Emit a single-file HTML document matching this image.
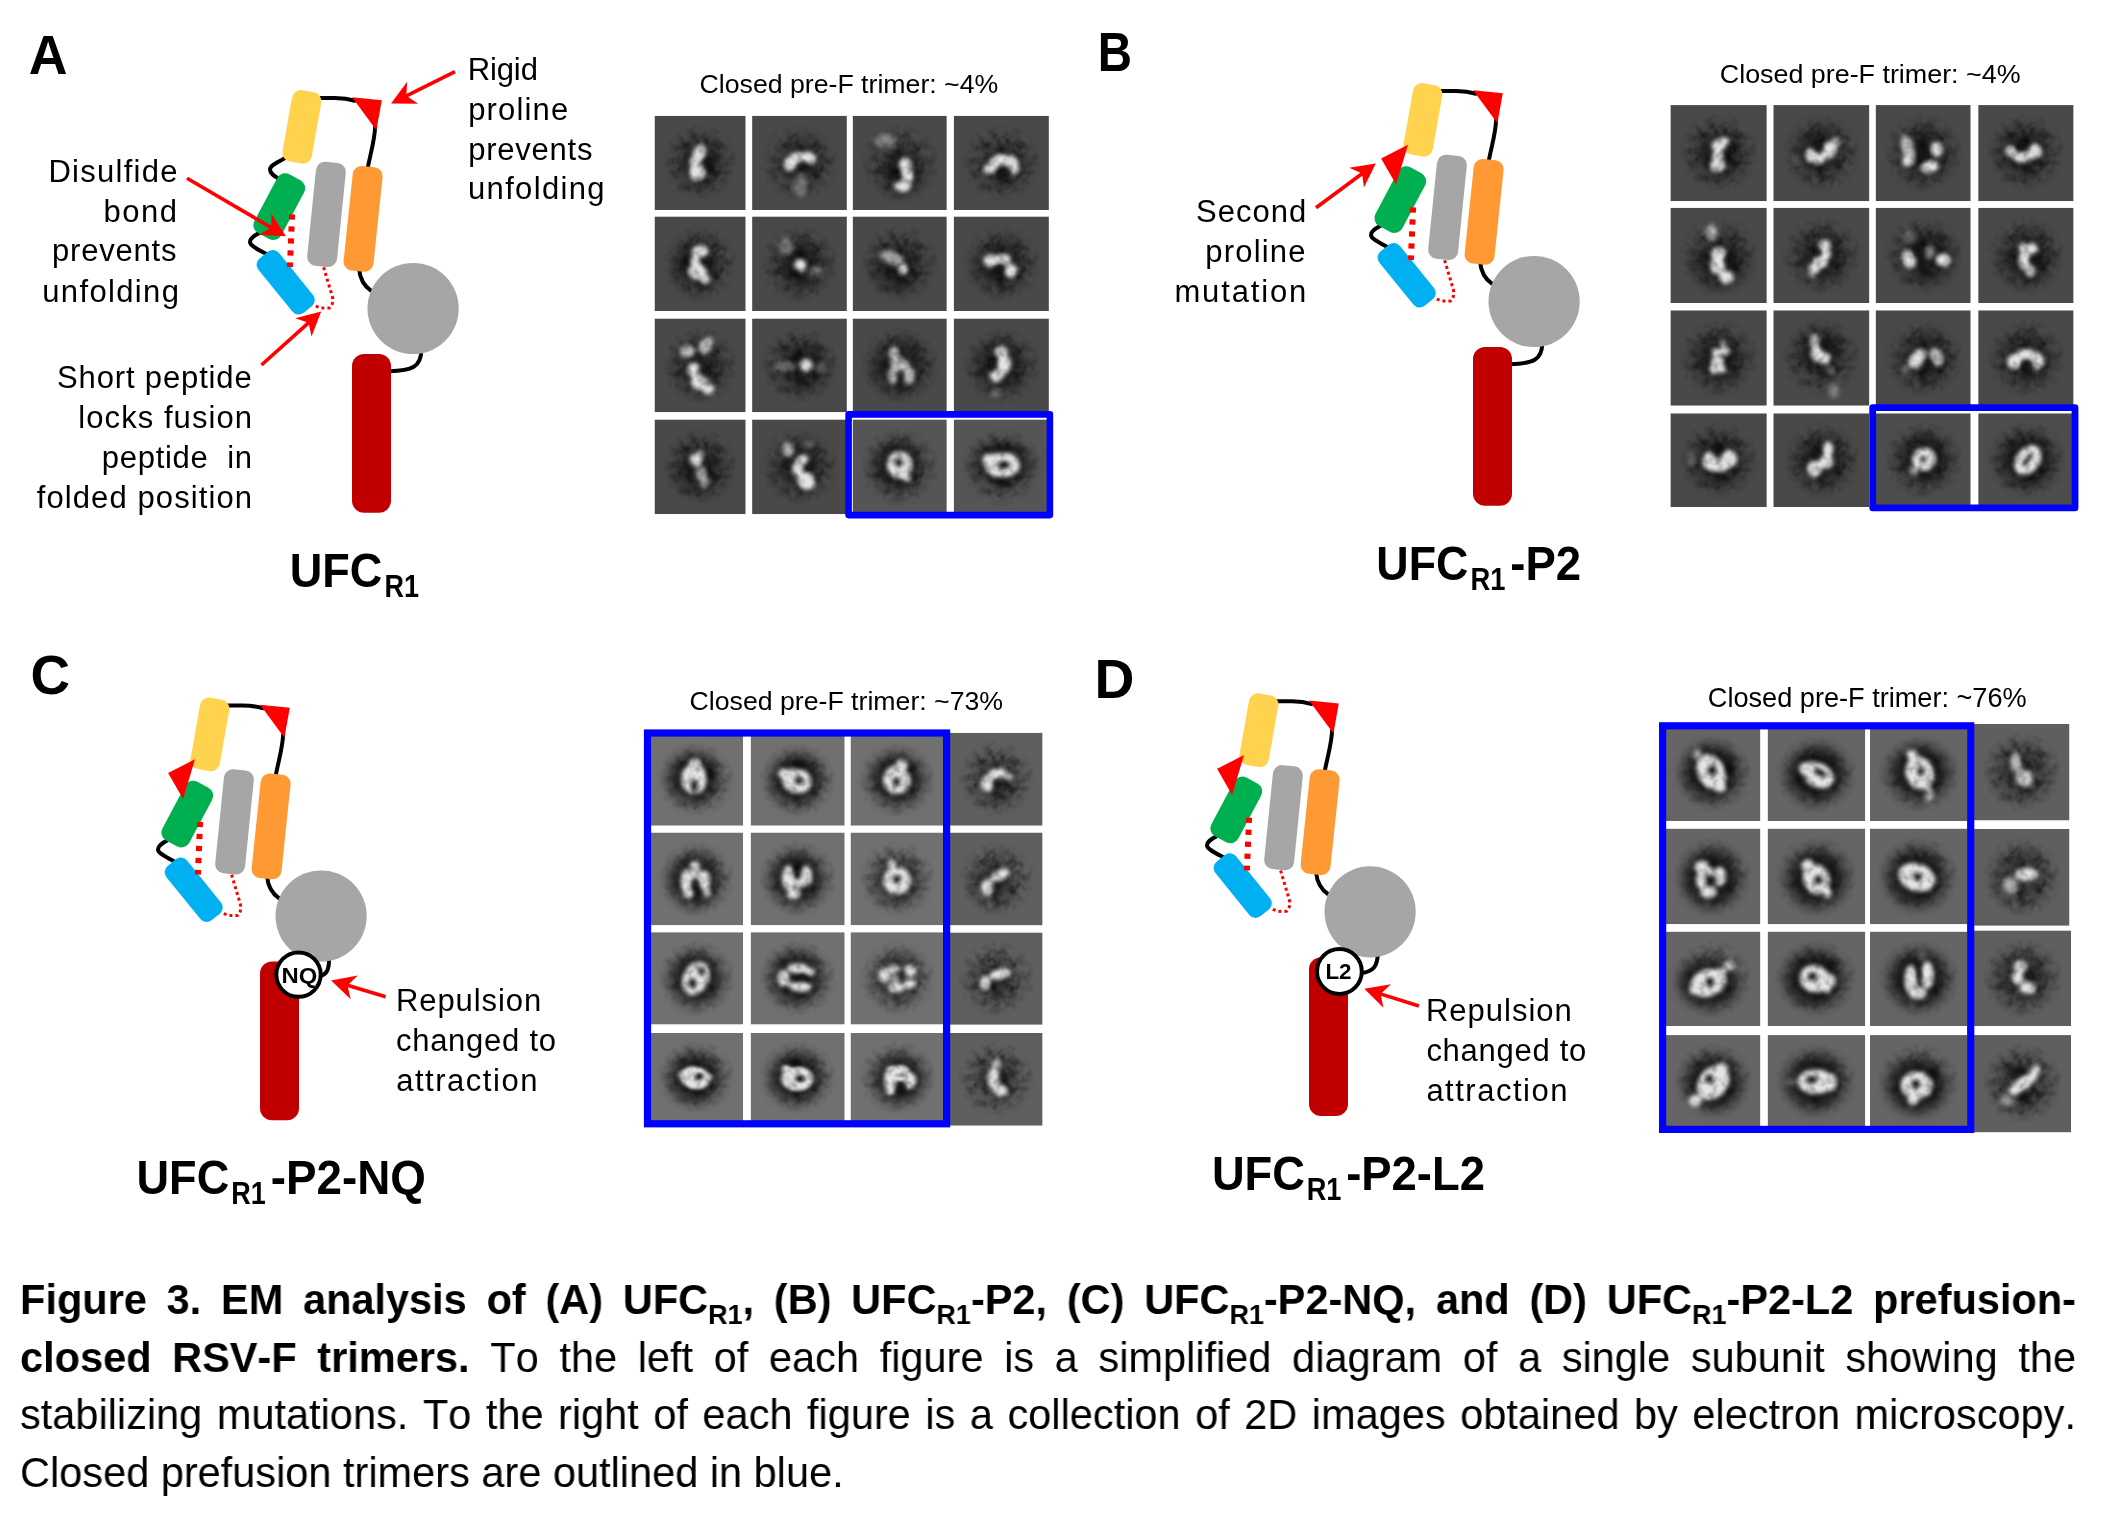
<!DOCTYPE html>
<html lang="en"><head><meta charset="utf-8"><title>Figure 3</title>
<style>
html,body{margin:0;padding:0;background:#fff}
body{width:2118px;height:1520px;overflow:hidden;position:relative;font-family:"Liberation Sans", Arial, Helvetica, sans-serif}
svg.main{position:absolute;left:0;top:0;will-change:transform}
svg text{font-family:"Liberation Sans",Arial,Helvetica,sans-serif;fill:#000;font-kerning:none}
.cap{position:absolute;left:19.6px;width:2139.2px;font-size:43.2px;line-height:57px;white-space:nowrap;color:#000;font-kerning:none;transform:scale(0.9611,1);transform-origin:0 0;will-change:transform}
.cap.j{text-align:justify;text-align-last:justify}
.cap sub{font-size:28px;vertical-align:baseline;position:relative;top:10px;line-height:0}
</style></head><body>
<svg class="main" width="2118" height="1520" viewBox="0 0 2118 1520">
<defs><filter id="b1" x="-50%" y="-50%" width="200%" height="200%"><feGaussianBlur stdDeviation="2.1"/></filter><filter id="b2" x="-50%" y="-50%" width="200%" height="200%"><feGaussianBlur stdDeviation="3"/></filter><filter id="b3" x="-50%" y="-50%" width="200%" height="200%"><feGaussianBlur stdDeviation="7"/></filter><filter id="n0" x="0" y="0" width="100%" height="100%"><feTurbulence type="fractalNoise" baseFrequency="0.11" numOctaves="2" seed="2"/><feColorMatrix type="matrix" values="0 0 0 0 0 0 0 0 0 0 0 0 0 0 0 2.2 0 0 0 -0.9"/></filter><filter id="n1" x="0" y="0" width="100%" height="100%"><feTurbulence type="fractalNoise" baseFrequency="0.11" numOctaves="2" seed="7"/><feColorMatrix type="matrix" values="0 0 0 0 0 0 0 0 0 0 0 0 0 0 0 2.2 0 0 0 -0.9"/></filter><filter id="n2" x="0" y="0" width="100%" height="100%"><feTurbulence type="fractalNoise" baseFrequency="0.11" numOctaves="2" seed="13"/><feColorMatrix type="matrix" values="0 0 0 0 0 0 0 0 0 0 0 0 0 0 0 2.2 0 0 0 -0.9"/></filter><radialGradient id="hm"><stop offset="0" stop-color="#fff"/><stop offset="0.55" stop-color="#fff"/><stop offset="1" stop-color="#fff" stop-opacity="0"/></radialGradient><mask id="mk" maskUnits="userSpaceOnUse" x="0" y="0" width="100" height="100"><circle cx="50" cy="50" r="42" fill="url(#hm)"/></mask></defs>
<g id="gridA"><svg x="654.5" y="115.7" width="91.2" height="94.4" viewBox="0 0 100 100" preserveAspectRatio="none"><rect width="100" height="100" fill="#494949"/><g filter="url(#b3)" fill="#000"><ellipse cx="50" cy="50" rx="21.1" ry="22.9" opacity="0.57"/></g><g mask="url(#mk)"><rect width="100" height="100" filter="url(#n0)" opacity="0.55"/></g><g filter="url(#b1)" fill="#e4e4e4"><ellipse cx="49" cy="40" rx="6.7" ry="10.1" transform="rotate(20 49 40)"/><ellipse cx="47" cy="60" rx="9.0" ry="9.0"/><ellipse cx="44" cy="50" rx="5.6" ry="7.8"/></g><g filter="url(#b1)" fill="#0a0a0a"><ellipse cx="60" cy="52" rx="5.0" ry="6.0" opacity="0.75"/></g><g mask="url(#mk)"><rect width="100" height="100" filter="url(#n1)" opacity="0.3"/></g></svg><svg x="752.1" y="115.7" width="94.8" height="94.4" viewBox="0 0 100 100" preserveAspectRatio="none"><rect width="100" height="100" fill="#494949"/><g filter="url(#b3)" fill="#000"><ellipse cx="52" cy="50" rx="21.1" ry="19.4" opacity="0.57"/></g><g mask="url(#mk)"><rect width="100" height="100" filter="url(#n1)" opacity="0.55"/></g><g filter="url(#b2)" fill="#ddd"><ellipse cx="51" cy="73" rx="6.0" ry="13.0" opacity="0.45"/></g><g filter="url(#b1)" fill="#e4e4e4"><ellipse cx="40" cy="51" rx="6.7" ry="7.8"/><ellipse cx="47" cy="45" rx="9.0" ry="6.7" transform="rotate(-20 47 45)"/><ellipse cx="60" cy="45" rx="7.8" ry="6.7" transform="rotate(20 60 45)"/></g><g filter="url(#b1)" fill="#0a0a0a"><ellipse cx="54" cy="53" rx="6.0" ry="4.0" opacity="0.75"/></g><g mask="url(#mk)"><rect width="100" height="100" filter="url(#n2)" opacity="0.3"/></g></svg><svg x="852.6" y="115.7" width="94.2" height="94.4" viewBox="0 0 100 100" preserveAspectRatio="none"><rect width="100" height="100" fill="#494949"/><g filter="url(#b3)" fill="#000"><ellipse cx="52" cy="58" rx="21.1" ry="22.9" opacity="0.57"/></g><g mask="url(#mk)"><rect width="100" height="100" filter="url(#n2)" opacity="0.55"/></g><g filter="url(#b2)" fill="#ddd"><ellipse cx="35" cy="27" rx="11.0" ry="7.0" opacity="0.45"/></g><g filter="url(#b1)" fill="#e4e4e4"><ellipse cx="56" cy="52" rx="6.7" ry="7.8"/><ellipse cx="58" cy="63" rx="6.7" ry="9.0"/><ellipse cx="53" cy="74" rx="9.0" ry="6.7"/></g><g filter="url(#b1)" fill="#0a0a0a"><ellipse cx="47" cy="65" rx="4.0" ry="6.0" opacity="0.75"/></g><g mask="url(#mk)"><rect width="100" height="100" filter="url(#n0)" opacity="0.3"/></g></svg><svg x="953.7" y="115.7" width="95.2" height="94.4" viewBox="0 0 100 100" preserveAspectRatio="none"><rect width="100" height="100" fill="#494949"/><g filter="url(#b3)" fill="#000"><ellipse cx="52" cy="52" rx="21.1" ry="19.4" opacity="0.57"/></g><g mask="url(#mk)"><rect width="100" height="100" filter="url(#n0)" opacity="0.55"/></g><g filter="url(#b1)" fill="#e4e4e4"><ellipse cx="38" cy="56" rx="6.7" ry="5.6" transform="rotate(-20 38 56)"/><ellipse cx="47" cy="48" rx="10.1" ry="6.7" transform="rotate(-25 47 48)"/><ellipse cx="60" cy="50" rx="7.8" ry="7.8" transform="rotate(30 60 50)"/><ellipse cx="64" cy="57" rx="4.5" ry="5.6"/></g><g filter="url(#b1)" fill="#0a0a0a"><ellipse cx="54" cy="58" rx="6.0" ry="5.0" opacity="0.75"/></g><g mask="url(#mk)"><rect width="100" height="100" filter="url(#n1)" opacity="0.3"/></g></svg><svg x="654.5" y="216.4" width="91.2" height="94.7" viewBox="0 0 100 100" preserveAspectRatio="none"><rect width="100" height="100" fill="#494949"/><g filter="url(#b3)" fill="#000"><ellipse cx="47" cy="51" rx="22.9" ry="23.8" opacity="0.57"/></g><g mask="url(#mk)"><rect width="100" height="100" filter="url(#n1)" opacity="0.55"/></g><g filter="url(#b1)" fill="#e4e4e4"><ellipse cx="50" cy="37" rx="9.0" ry="6.7"/><ellipse cx="45" cy="47" rx="5.6" ry="6.7"/><ellipse cx="47" cy="58" rx="10.1" ry="9.0"/><ellipse cx="55" cy="66" rx="5.6" ry="4.5"/></g><g filter="url(#b1)" fill="#0a0a0a"><ellipse cx="57" cy="48" rx="5.0" ry="5.0" opacity="0.75"/><ellipse cx="34" cy="45" rx="4.0" ry="6.0" opacity="0.4"/></g><g mask="url(#mk)"><rect width="100" height="100" filter="url(#n2)" opacity="0.3"/></g></svg><svg x="752.1" y="216.4" width="94.8" height="94.7" viewBox="0 0 100 100" preserveAspectRatio="none"><rect width="100" height="100" fill="#494949"/><g filter="url(#b3)" fill="#000"><ellipse cx="51" cy="51" rx="23.8" ry="23.8" opacity="0.52"/></g><g mask="url(#mk)"><rect width="100" height="100" filter="url(#n2)" opacity="0.55"/></g><g filter="url(#b2)" fill="#ddd"><ellipse cx="36" cy="32" rx="7.0" ry="9.0" opacity="0.45"/><ellipse cx="67" cy="58" rx="8.0" ry="5.0" opacity="0.45"/></g><g filter="url(#b1)" fill="#e4e4e4"><ellipse cx="51" cy="51.5" rx="6.2" ry="6.7"/></g><g filter="url(#b1)" fill="#0a0a0a"><ellipse cx="53" cy="40" rx="5.0" ry="4.0" opacity="0.5"/><ellipse cx="45" cy="61" rx="5.0" ry="4.0" opacity="0.5"/></g><g mask="url(#mk)"><rect width="100" height="100" filter="url(#n0)" opacity="0.3"/></g></svg><svg x="852.6" y="216.4" width="94.2" height="94.7" viewBox="0 0 100 100" preserveAspectRatio="none"><rect width="100" height="100" fill="#494949"/><g filter="url(#b3)" fill="#000"><ellipse cx="48" cy="53" rx="23.8" ry="23.8" opacity="0.52"/></g><g mask="url(#mk)"><rect width="100" height="100" filter="url(#n0)" opacity="0.55"/></g><g filter="url(#b2)" fill="#ddd"><ellipse cx="42" cy="44" rx="13.0" ry="7.0" transform="rotate(20 42 44)" opacity="0.7"/></g><g filter="url(#b1)" fill="#e4e4e4"><ellipse cx="53" cy="55.5" rx="5.6" ry="5.6"/></g><g filter="url(#b1)" fill="#0a0a0a"><ellipse cx="45" cy="58" rx="5.0" ry="4.0" opacity="0.5"/></g><g mask="url(#mk)"><rect width="100" height="100" filter="url(#n1)" opacity="0.3"/></g></svg><svg x="953.7" y="216.4" width="95.2" height="94.7" viewBox="0 0 100 100" preserveAspectRatio="none"><rect width="100" height="100" fill="#494949"/><g filter="url(#b3)" fill="#000"><ellipse cx="50" cy="51" rx="23.8" ry="22.9" opacity="0.57"/></g><g mask="url(#mk)"><rect width="100" height="100" filter="url(#n1)" opacity="0.55"/></g><g filter="url(#b1)" fill="#e4e4e4"><ellipse cx="39" cy="47" rx="7.8" ry="6.7"/><ellipse cx="51" cy="45" rx="9.0" ry="5.6"/><ellipse cx="60" cy="57" rx="6.7" ry="7.8"/></g><g filter="url(#b1)" fill="#0a0a0a"><ellipse cx="47" cy="56" rx="6.0" ry="4.0" opacity="0.75"/></g><g mask="url(#mk)"><rect width="100" height="100" filter="url(#n2)" opacity="0.3"/></g></svg><svg x="654.5" y="318.4" width="91.2" height="93.8" viewBox="0 0 100 100" preserveAspectRatio="none"><rect width="100" height="100" fill="#494949"/><g filter="url(#b3)" fill="#000"><ellipse cx="49" cy="51" rx="24.6" ry="26.4" opacity="0.40"/></g><g mask="url(#mk)"><rect width="100" height="100" filter="url(#n2)" opacity="0.55"/></g><g filter="url(#b1)" fill="#e4e4e4"><ellipse cx="36" cy="35" rx="7.8" ry="6.7" opacity="0.8"/><ellipse cx="56" cy="29" rx="6.7" ry="10.1" transform="rotate(35 56 29)" opacity="0.8"/><ellipse cx="43" cy="55" rx="6.7" ry="7.8"/><ellipse cx="49" cy="67" rx="9.0" ry="9.0"/><ellipse cx="59" cy="75" rx="6.7" ry="5.6"/></g><g filter="url(#b1)" fill="#0a0a0a"><ellipse cx="55" cy="57" rx="6.0" ry="6.0" opacity="0.75"/></g><g mask="url(#mk)"><rect width="100" height="100" filter="url(#n0)" opacity="0.3"/></g></svg><svg x="752.1" y="318.4" width="94.8" height="93.8" viewBox="0 0 100 100" preserveAspectRatio="none"><rect width="100" height="100" fill="#494949"/><g filter="url(#b3)" fill="#000"><ellipse cx="53" cy="51" rx="24.6" ry="23.8" opacity="0.52"/></g><g mask="url(#mk)"><rect width="100" height="100" filter="url(#n0)" opacity="0.55"/></g><g filter="url(#b2)" fill="#ddd"><ellipse cx="35" cy="51" rx="11.0" ry="5.0" opacity="0.45"/><ellipse cx="73" cy="53" rx="5.0" ry="6.0" opacity="0.3"/></g><g filter="url(#b1)" fill="#e4e4e4"><ellipse cx="57" cy="50" rx="6.7" ry="6.7"/></g><g filter="url(#b1)" fill="#0a0a0a"><ellipse cx="47" cy="42" rx="5.0" ry="4.0" opacity="0.5"/></g><g mask="url(#mk)"><rect width="100" height="100" filter="url(#n1)" opacity="0.3"/></g></svg><svg x="852.6" y="318.4" width="94.2" height="93.8" viewBox="0 0 100 100" preserveAspectRatio="none"><rect width="100" height="100" fill="#494949"/><g filter="url(#b3)" fill="#000"><ellipse cx="50" cy="51" rx="26.4" ry="26.4" opacity="0.52"/></g><g mask="url(#mk)"><rect width="100" height="100" filter="url(#n1)" opacity="0.55"/></g><g filter="url(#b1)" fill="#e4e4e4"><ellipse cx="44" cy="37" rx="5.6" ry="7.8" opacity="0.75"/><ellipse cx="48" cy="49" rx="7.8" ry="9.0" opacity="0.75"/><ellipse cx="43" cy="61" rx="5.6" ry="9.0" opacity="0.75"/><ellipse cx="60" cy="61" rx="6.7" ry="9.0" opacity="0.75"/><ellipse cx="56" cy="51" rx="5.6" ry="5.6" opacity="0.75"/></g><g filter="url(#b1)" fill="#0a0a0a"><ellipse cx="51" cy="60" rx="3.0" ry="5.0" opacity="0.75"/></g><g mask="url(#mk)"><rect width="100" height="100" filter="url(#n2)" opacity="0.3"/></g></svg><svg x="953.7" y="318.4" width="95.2" height="93.8" viewBox="0 0 100 100" preserveAspectRatio="none"><rect width="100" height="100" fill="#494949"/><g filter="url(#b3)" fill="#000"><ellipse cx="49" cy="51" rx="23.8" ry="24.6" opacity="0.57"/></g><g mask="url(#mk)"><rect width="100" height="100" filter="url(#n2)" opacity="0.55"/></g><g filter="url(#b2)" fill="#ddd"><ellipse cx="45" cy="80" rx="6.0" ry="5.0" opacity="0.3"/></g><g filter="url(#b1)" fill="#e4e4e4"><ellipse cx="50" cy="36" rx="6.7" ry="6.7"/><ellipse cx="53" cy="49" rx="7.8" ry="10.1"/><ellipse cx="45" cy="61" rx="7.8" ry="6.7"/></g><g filter="url(#b1)" fill="#0a0a0a"><ellipse cx="41" cy="49" rx="4.0" ry="7.0" opacity="0.75"/></g><g mask="url(#mk)"><rect width="100" height="100" filter="url(#n0)" opacity="0.3"/></g></svg><svg x="654.5" y="419.4" width="91.2" height="94.8" viewBox="0 0 100 100" preserveAspectRatio="none"><rect width="100" height="100" fill="#494949"/><g filter="url(#b3)" fill="#000"><ellipse cx="49" cy="52" rx="24.6" ry="24.6" opacity="0.52"/></g><g mask="url(#mk)"><rect width="100" height="100" filter="url(#n0)" opacity="0.55"/></g><g filter="url(#b1)" fill="#e4e4e4"><ellipse cx="45" cy="43" rx="6.7" ry="6.7"/><ellipse cx="50" cy="37" rx="3.4" ry="4.5"/><ellipse cx="51" cy="57" rx="5.6" ry="7.8" opacity="0.7"/><ellipse cx="54" cy="66" rx="5.6" ry="6.7" opacity="0.6"/></g><g filter="url(#b1)" fill="#0a0a0a"><ellipse cx="38" cy="48" rx="4.0" ry="5.0" opacity="0.4"/></g><g mask="url(#mk)"><rect width="100" height="100" filter="url(#n1)" opacity="0.3"/></g></svg><svg x="752.1" y="419.4" width="94.8" height="94.8" viewBox="0 0 100 100" preserveAspectRatio="none"><rect width="100" height="100" fill="#494949"/><g filter="url(#b3)" fill="#000"><ellipse cx="51" cy="50" rx="22.9" ry="24.6" opacity="0.46"/></g><g mask="url(#mk)"><rect width="100" height="100" filter="url(#n1)" opacity="0.55"/></g><g filter="url(#b2)" fill="#ddd"><ellipse cx="60" cy="26" rx="6.0" ry="4.0" opacity="0.3"/></g><g filter="url(#b1)" fill="#e4e4e4"><ellipse cx="38" cy="32" rx="5.6" ry="7.8" opacity="0.8"/><ellipse cx="53" cy="43" rx="6.7" ry="5.6"/><ellipse cx="48" cy="52" rx="5.6" ry="7.8"/><ellipse cx="57" cy="65" rx="10.1" ry="9.0" transform="rotate(40 57 65)"/></g><g filter="url(#b1)" fill="#0a0a0a"><ellipse cx="61" cy="48" rx="4.0" ry="5.0" opacity="0.75"/><ellipse cx="37" cy="44" rx="4.0" ry="6.0" opacity="0.4"/></g><g mask="url(#mk)"><rect width="100" height="100" filter="url(#n2)" opacity="0.3"/></g></svg><svg x="852.6" y="419.4" width="94.2" height="94.8" viewBox="0 0 100 100" preserveAspectRatio="none"><rect width="100" height="100" fill="#555555"/><g filter="url(#b3)" fill="#000"><ellipse cx="48" cy="49" rx="24.6" ry="24.6" opacity="0.69"/></g><g mask="url(#mk)"><rect width="100" height="100" filter="url(#n2)" opacity="0.55"/></g><g filter="url(#b1)" fill="#e4e4e4"><ellipse cx="50" cy="48" rx="13.5" ry="14.5"/><ellipse cx="42" cy="44" rx="4.5" ry="6.7"/><ellipse cx="57" cy="61" rx="4.5" ry="4.5"/></g><g filter="url(#b1)" fill="#0a0a0a"><ellipse cx="49" cy="45.5" rx="3.9" ry="4.5"/></g><g mask="url(#mk)"><rect width="100" height="100" filter="url(#n0)" opacity="0.3"/></g></svg><svg x="953.7" y="419.4" width="95.2" height="94.8" viewBox="0 0 100 100" preserveAspectRatio="none"><rect width="100" height="100" fill="#555555"/><g filter="url(#b3)" fill="#000"><ellipse cx="51" cy="47" rx="28.2" ry="21.1" opacity="0.69"/></g><g mask="url(#mk)"><rect width="100" height="100" filter="url(#n0)" opacity="0.55"/></g><g filter="url(#b1)" fill="#e4e4e4"><ellipse cx="51" cy="48" rx="18.5" ry="13.5"/><ellipse cx="36" cy="43" rx="5.6" ry="6.7"/></g><g filter="url(#b1)" fill="#0a0a0a"><ellipse cx="52.5" cy="48" rx="6.5" ry="3.9"/><ellipse cx="51" cy="30" rx="12.0" ry="5.0" opacity="0.4"/><ellipse cx="51" cy="66" rx="12.0" ry="5.0" opacity="0.4"/></g><g mask="url(#mk)"><rect width="100" height="100" filter="url(#n1)" opacity="0.3"/></g></svg><rect x="848.6" y="414.4" width="201.3" height="100.7" fill="none" stroke="#0000FF" stroke-width="6.6" stroke-linejoin="round"/></g>
<g id="gridB"><svg x="1670.4" y="105.1" width="96.4" height="96.1" viewBox="0 0 100 100" preserveAspectRatio="none"><rect width="100" height="100" fill="#494949"/><g filter="url(#b3)" fill="#000"><ellipse cx="51" cy="51" rx="22.9" ry="22.9" opacity="0.57"/></g><g mask="url(#mk)"><rect width="100" height="100" filter="url(#n0)" opacity="0.55"/></g><g filter="url(#b1)" fill="#e4e4e4"><ellipse cx="52" cy="41" rx="10.1" ry="6.7" transform="rotate(-25 52 41)"/><ellipse cx="49" cy="53" rx="5.6" ry="6.7"/><ellipse cx="49" cy="63" rx="7.8" ry="6.7"/></g><g filter="url(#b1)" fill="#0a0a0a"><ellipse cx="62" cy="45" rx="5.0" ry="6.0" opacity="0.75"/></g><g mask="url(#mk)"><rect width="100" height="100" filter="url(#n1)" opacity="0.3"/></g></svg><svg x="1773.3" y="105.1" width="96.1" height="96.1" viewBox="0 0 100 100" preserveAspectRatio="none"><rect width="100" height="100" fill="#494949"/><g filter="url(#b3)" fill="#000"><ellipse cx="49" cy="49" rx="22.9" ry="22.9" opacity="0.57"/></g><g mask="url(#mk)"><rect width="100" height="100" filter="url(#n1)" opacity="0.55"/></g><g filter="url(#b2)" fill="#ddd"><ellipse cx="24" cy="58" rx="5.0" ry="4.0" opacity="0.25"/></g><g filter="url(#b1)" fill="#e4e4e4"><ellipse cx="40" cy="52" rx="6.7" ry="7.8"/><ellipse cx="47" cy="56" rx="6.7" ry="5.6"/><ellipse cx="58" cy="47" rx="7.8" ry="9.0" transform="rotate(30 58 47)"/><ellipse cx="65" cy="38" rx="4.5" ry="5.6" opacity="0.7"/></g><g filter="url(#b1)" fill="#0a0a0a"><ellipse cx="46" cy="44" rx="6.0" ry="5.0" opacity="0.75"/></g><g mask="url(#mk)"><rect width="100" height="100" filter="url(#n2)" opacity="0.3"/></g></svg><svg x="1875.6" y="105.1" width="95.1" height="96.1" viewBox="0 0 100 100" preserveAspectRatio="none"><rect width="100" height="100" fill="#494949"/><g filter="url(#b3)" fill="#000"><ellipse cx="51" cy="51" rx="24.6" ry="24.6" opacity="0.57"/></g><g mask="url(#mk)"><rect width="100" height="100" filter="url(#n2)" opacity="0.55"/></g><g filter="url(#b1)" fill="#e4e4e4"><ellipse cx="34" cy="45" rx="6.7" ry="14.6" transform="rotate(-15 34 45)" opacity="0.75"/><ellipse cx="34" cy="58" rx="6.7" ry="5.6"/><ellipse cx="64" cy="46" rx="6.7" ry="7.8"/><ellipse cx="57" cy="64" rx="10.1" ry="6.7" transform="rotate(-15 57 64)"/></g><g filter="url(#b1)" fill="#0a0a0a"><ellipse cx="51" cy="50" rx="5.0" ry="9.0" opacity="0.75"/></g><g mask="url(#mk)"><rect width="100" height="100" filter="url(#n0)" opacity="0.3"/></g></svg><svg x="1978.2" y="105.1" width="95.4" height="96.1" viewBox="0 0 100 100" preserveAspectRatio="none"><rect width="100" height="100" fill="#494949"/><g filter="url(#b3)" fill="#000"><ellipse cx="48" cy="49" rx="23.8" ry="22.9" opacity="0.57"/></g><g mask="url(#mk)"><rect width="100" height="100" filter="url(#n0)" opacity="0.55"/></g><g filter="url(#b1)" fill="#e4e4e4"><ellipse cx="34" cy="48" rx="5.6" ry="5.6"/><ellipse cx="46" cy="54" rx="10.1" ry="5.6"/><ellipse cx="59" cy="48" rx="7.8" ry="7.8"/></g><g filter="url(#b1)" fill="#0a0a0a"><ellipse cx="48" cy="42" rx="7.0" ry="5.0" opacity="0.75"/></g><g mask="url(#mk)"><rect width="100" height="100" filter="url(#n1)" opacity="0.3"/></g></svg><svg x="1670.4" y="207.7" width="96.4" height="95.4" viewBox="0 0 100 100" preserveAspectRatio="none"><rect width="100" height="100" fill="#494949"/><g filter="url(#b3)" fill="#000"><ellipse cx="52" cy="57" rx="24.6" ry="24.6" opacity="0.57"/></g><g mask="url(#mk)"><rect width="100" height="100" filter="url(#n1)" opacity="0.55"/></g><g filter="url(#b2)" fill="#ddd"><ellipse cx="43" cy="26" rx="6.0" ry="8.0" opacity="0.8"/></g><g filter="url(#b1)" fill="#e4e4e4"><ellipse cx="50" cy="49" rx="7.8" ry="7.8"/><ellipse cx="49" cy="61" rx="7.8" ry="9.0"/><ellipse cx="58" cy="73" rx="7.8" ry="6.7"/></g><g filter="url(#b1)" fill="#0a0a0a"><ellipse cx="62" cy="55" rx="5.0" ry="7.0" opacity="0.75"/></g><g mask="url(#mk)"><rect width="100" height="100" filter="url(#n2)" opacity="0.3"/></g></svg><svg x="1773.3" y="207.7" width="96.1" height="95.4" viewBox="0 0 100 100" preserveAspectRatio="none"><rect width="100" height="100" fill="#494949"/><g filter="url(#b3)" fill="#000"><ellipse cx="51" cy="51" rx="22.9" ry="23.8" opacity="0.57"/></g><g mask="url(#mk)"><rect width="100" height="100" filter="url(#n2)" opacity="0.55"/></g><g filter="url(#b1)" fill="#e4e4e4"><ellipse cx="53" cy="40" rx="6.7" ry="6.7"/><ellipse cx="55" cy="49" rx="5.6" ry="5.6"/><ellipse cx="49" cy="57" rx="7.8" ry="6.7"/><ellipse cx="43" cy="63" rx="6.7" ry="5.6"/><ellipse cx="40" cy="70" rx="3.4" ry="4.5" opacity="0.5"/></g><g filter="url(#b1)" fill="#0a0a0a"><ellipse cx="46" cy="46" rx="4.0" ry="5.0" opacity="0.75"/></g><g mask="url(#mk)"><rect width="100" height="100" filter="url(#n0)" opacity="0.3"/></g></svg><svg x="1875.6" y="207.7" width="95.1" height="95.4" viewBox="0 0 100 100" preserveAspectRatio="none"><rect width="100" height="100" fill="#494949"/><g filter="url(#b3)" fill="#000"><ellipse cx="53" cy="51" rx="26.4" ry="24.6" opacity="0.57"/></g><g mask="url(#mk)"><rect width="100" height="100" filter="url(#n0)" opacity="0.55"/></g><g filter="url(#b2)" fill="#ddd"><ellipse cx="35" cy="31" rx="6.0" ry="5.0" opacity="0.45"/><ellipse cx="57" cy="47" rx="5.0" ry="7.0" opacity="0.6"/></g><g filter="url(#b1)" fill="#e4e4e4"><ellipse cx="35" cy="54" rx="6.7" ry="10.1" transform="rotate(-20 35 54)"/><ellipse cx="71" cy="55" rx="7.8" ry="6.7"/></g><g filter="url(#b1)" fill="#0a0a0a"><ellipse cx="45" cy="45" rx="5.0" ry="6.0" opacity="0.75"/></g><g mask="url(#mk)"><rect width="100" height="100" filter="url(#n1)" opacity="0.3"/></g></svg><svg x="1978.2" y="207.7" width="95.4" height="95.4" viewBox="0 0 100 100" preserveAspectRatio="none"><rect width="100" height="100" fill="#494949"/><g filter="url(#b3)" fill="#000"><ellipse cx="52" cy="53" rx="23.8" ry="23.8" opacity="0.57"/></g><g mask="url(#mk)"><rect width="100" height="100" filter="url(#n1)" opacity="0.55"/></g><g filter="url(#b1)" fill="#e4e4e4"><ellipse cx="56" cy="44" rx="6.7" ry="6.7"/><ellipse cx="47" cy="42" rx="4.5" ry="5.6"/><ellipse cx="48" cy="55" rx="5.6" ry="10.1"/><ellipse cx="54" cy="66" rx="5.6" ry="6.7" opacity="0.8"/></g><g filter="url(#b1)" fill="#0a0a0a"><ellipse cx="60" cy="53" rx="5.0" ry="6.0" opacity="0.75"/></g><g mask="url(#mk)"><rect width="100" height="100" filter="url(#n2)" opacity="0.3"/></g></svg><svg x="1670.4" y="310.3" width="96.4" height="95.4" viewBox="0 0 100 100" preserveAspectRatio="none"><rect width="100" height="100" fill="#494949"/><g filter="url(#b3)" fill="#000"><ellipse cx="50" cy="51" rx="23.8" ry="23.8" opacity="0.57"/></g><g mask="url(#mk)"><rect width="100" height="100" filter="url(#n2)" opacity="0.55"/></g><g filter="url(#b1)" fill="#e4e4e4"><ellipse cx="47" cy="44" rx="4.5" ry="4.5"/><ellipse cx="56" cy="43" rx="5.6" ry="4.5"/><ellipse cx="49" cy="54" rx="6.7" ry="5.6"/><ellipse cx="46" cy="61" rx="5.6" ry="5.6"/><ellipse cx="53" cy="62" rx="4.5" ry="4.5"/><ellipse cx="54" cy="35" rx="3.4" ry="4.5" opacity="0.6"/></g><g mask="url(#mk)"><rect width="100" height="100" filter="url(#n0)" opacity="0.3"/></g></svg><svg x="1773.3" y="310.3" width="96.1" height="95.4" viewBox="0 0 100 100" preserveAspectRatio="none"><rect width="100" height="100" fill="#494949"/><g filter="url(#b3)" fill="#000"><ellipse cx="49" cy="45" rx="22.9" ry="22.9" opacity="0.57"/></g><g mask="url(#mk)"><rect width="100" height="100" filter="url(#n0)" opacity="0.55"/></g><g filter="url(#b2)" fill="#ddd"><ellipse cx="60" cy="62" rx="4.0" ry="5.0" opacity="0.3"/><ellipse cx="63" cy="84" rx="5.0" ry="8.0" opacity="0.4"/></g><g filter="url(#b1)" fill="#e4e4e4"><ellipse cx="43" cy="32" rx="5.6" ry="7.8" opacity="0.7"/><ellipse cx="46" cy="45" rx="6.7" ry="9.0"/><ellipse cx="53" cy="50" rx="6.7" ry="6.7"/></g><g filter="url(#b1)" fill="#0a0a0a"><ellipse cx="55" cy="38" rx="6.0" ry="6.0" opacity="0.75"/></g><g mask="url(#mk)"><rect width="100" height="100" filter="url(#n1)" opacity="0.3"/></g></svg><svg x="1875.6" y="310.3" width="95.1" height="95.4" viewBox="0 0 100 100" preserveAspectRatio="none"><rect width="100" height="100" fill="#494949"/><g filter="url(#b3)" fill="#000"><ellipse cx="53" cy="51" rx="23.8" ry="22.9" opacity="0.57"/></g><g mask="url(#mk)"><rect width="100" height="100" filter="url(#n1)" opacity="0.55"/></g><g filter="url(#b2)" fill="#ddd"><ellipse cx="32" cy="61" rx="4.0" ry="4.0" opacity="0.45"/></g><g filter="url(#b1)" fill="#e4e4e4"><ellipse cx="43" cy="53" rx="9.0" ry="7.8" transform="rotate(-30 43 53)"/><ellipse cx="47" cy="46" rx="6.7" ry="5.6"/><ellipse cx="64" cy="49" rx="6.7" ry="10.1" transform="rotate(-20 64 49)" opacity="0.8"/></g><g filter="url(#b1)" fill="#0a0a0a"><ellipse cx="54" cy="57" rx="6.0" ry="5.0" opacity="0.75"/></g><g mask="url(#mk)"><rect width="100" height="100" filter="url(#n2)" opacity="0.3"/></g></svg><svg x="1978.2" y="310.3" width="95.4" height="95.4" viewBox="0 0 100 100" preserveAspectRatio="none"><rect width="100" height="100" fill="#494949"/><g filter="url(#b3)" fill="#000"><ellipse cx="50" cy="51" rx="23.8" ry="22.9" opacity="0.57"/></g><g mask="url(#mk)"><rect width="100" height="100" filter="url(#n2)" opacity="0.55"/></g><g filter="url(#b1)" fill="#e4e4e4"><ellipse cx="38" cy="54" rx="7.8" ry="7.8"/><ellipse cx="50" cy="46" rx="11.2" ry="5.6"/><ellipse cx="62" cy="53" rx="6.7" ry="9.0"/></g><g filter="url(#b1)" fill="#0a0a0a"><ellipse cx="51" cy="58" rx="6.0" ry="4.0" opacity="0.75"/></g><g mask="url(#mk)"><rect width="100" height="100" filter="url(#n0)" opacity="0.3"/></g></svg><svg x="1670.4" y="413.3" width="96.4" height="93.7" viewBox="0 0 100 100" preserveAspectRatio="none"><rect width="100" height="100" fill="#494949"/><g filter="url(#b3)" fill="#000"><ellipse cx="50" cy="51" rx="24.6" ry="24.6" opacity="0.57"/></g><g mask="url(#mk)"><rect width="100" height="100" filter="url(#n0)" opacity="0.55"/></g><g filter="url(#b2)" fill="#ddd"><ellipse cx="22" cy="49" rx="4.0" ry="6.0" opacity="0.35"/></g><g filter="url(#b1)" fill="#e4e4e4"><ellipse cx="41" cy="51" rx="7.8" ry="10.1"/><ellipse cx="60" cy="49" rx="9.0" ry="10.1" transform="rotate(30 60 49)"/><ellipse cx="50" cy="57" rx="10.1" ry="5.6"/></g><g filter="url(#b1)" fill="#0a0a0a"><ellipse cx="49" cy="40" rx="6.0" ry="6.0" opacity="0.75"/></g><g mask="url(#mk)"><rect width="100" height="100" filter="url(#n1)" opacity="0.3"/></g></svg><svg x="1773.3" y="413.3" width="96.1" height="93.7" viewBox="0 0 100 100" preserveAspectRatio="none"><rect width="100" height="100" fill="#494949"/><g filter="url(#b3)" fill="#000"><ellipse cx="51" cy="51" rx="23.8" ry="23.8" opacity="0.57"/></g><g mask="url(#mk)"><rect width="100" height="100" filter="url(#n1)" opacity="0.55"/></g><g filter="url(#b1)" fill="#e4e4e4"><ellipse cx="57" cy="38" rx="5.6" ry="7.8"/><ellipse cx="55" cy="51" rx="7.8" ry="7.8"/><ellipse cx="43" cy="59" rx="7.8" ry="9.0"/></g><g filter="url(#b1)" fill="#0a0a0a"><ellipse cx="44" cy="43" rx="4.0" ry="7.0" opacity="0.75"/></g><g mask="url(#mk)"><rect width="100" height="100" filter="url(#n2)" opacity="0.3"/></g></svg><svg x="1875.6" y="413.3" width="95.1" height="93.7" viewBox="0 0 100 100" preserveAspectRatio="none"><rect width="100" height="100" fill="#4d4d4d"/><g filter="url(#b3)" fill="#000"><ellipse cx="51" cy="49" rx="24.6" ry="24.6" opacity="0.69"/></g><g mask="url(#mk)"><rect width="100" height="100" filter="url(#n2)" opacity="0.55"/></g><g filter="url(#b1)" fill="#e4e4e4"><ellipse cx="51" cy="49" rx="12.5" ry="12.5"/><ellipse cx="40" cy="61" rx="4.5" ry="5.6" opacity="0.7"/></g><g filter="url(#b1)" fill="#0a0a0a"><ellipse cx="50" cy="49" rx="3.2" ry="3.2"/></g><g mask="url(#mk)"><rect width="100" height="100" filter="url(#n0)" opacity="0.3"/></g></svg><svg x="1978.2" y="413.3" width="95.4" height="93.7" viewBox="0 0 100 100" preserveAspectRatio="none"><rect width="100" height="100" fill="#4d4d4d"/><g filter="url(#b3)" fill="#000"><ellipse cx="51" cy="50" rx="26.4" ry="26.4" opacity="0.69"/></g><g mask="url(#mk)"><rect width="100" height="100" filter="url(#n0)" opacity="0.55"/></g><g filter="url(#b1)" fill="#e4e4e4"><ellipse cx="52" cy="50" rx="12.5" ry="17.5" transform="rotate(35 52 50)"/></g><g filter="url(#b1)" fill="#0a0a0a"><ellipse cx="52" cy="49" rx="2.0" ry="9.1" transform="rotate(35 52 49)"/></g><g mask="url(#mk)"><rect width="100" height="100" filter="url(#n1)" opacity="0.3"/></g></svg><rect x="1872.7" y="407.7" width="202.3" height="100.1" fill="none" stroke="#0000FF" stroke-width="6.8" stroke-linejoin="round"/></g>
<g id="gridC"><svg x="650.6" y="735.8" width="92.5" height="89.9" viewBox="0 0 100 100" preserveAspectRatio="none"><rect width="100" height="100" fill="#707070"/><g filter="url(#b3)" fill="#000"><ellipse cx="47" cy="47" rx="26.4" ry="26.4" opacity="0.80"/></g><g mask="url(#mk)"><rect width="100" height="100" filter="url(#n0)" opacity="0.4"/></g><g filter="url(#b1)" fill="#e4e4e4"><ellipse cx="47" cy="48" rx="14.0" ry="17.0"/><ellipse cx="48" cy="32" rx="6.7" ry="6.7"/></g><g filter="url(#b1)" fill="#0a0a0a"><ellipse cx="47" cy="56" rx="3.2" ry="7.8"/><ellipse cx="64" cy="42" rx="4.0" ry="8.0" opacity="0.5"/></g><g mask="url(#mk)"><rect width="100" height="100" filter="url(#n1)" opacity="0.3"/></g></svg><svg x="750.6" y="735.8" width="94.1" height="89.9" viewBox="0 0 100 100" preserveAspectRatio="none"><rect width="100" height="100" fill="#707070"/><g filter="url(#b3)" fill="#000"><ellipse cx="49" cy="49" rx="26.4" ry="26.4" opacity="0.80"/></g><g mask="url(#mk)"><rect width="100" height="100" filter="url(#n1)" opacity="0.4"/></g><g filter="url(#b1)" fill="#e4e4e4"><ellipse cx="49" cy="50" rx="16.0" ry="14.0" transform="rotate(20 49 50)"/><ellipse cx="35" cy="42" rx="5.6" ry="5.6"/></g><g filter="url(#b1)" fill="#0a0a0a"><ellipse cx="51.5" cy="50" rx="4.5" ry="3.9"/><ellipse cx="52" cy="32" rx="8.0" ry="5.0" opacity="0.5"/></g><g mask="url(#mk)"><rect width="100" height="100" filter="url(#n2)" opacity="0.3"/></g></svg><svg x="850.5" y="735.8" width="92.8" height="89.9" viewBox="0 0 100 100" preserveAspectRatio="none"><rect width="100" height="100" fill="#707070"/><g filter="url(#b3)" fill="#000"><ellipse cx="50" cy="48" rx="26.4" ry="26.4" opacity="0.80"/></g><g mask="url(#mk)"><rect width="100" height="100" filter="url(#n2)" opacity="0.4"/></g><g filter="url(#b1)" fill="#e4e4e4"><ellipse cx="50" cy="49" rx="15.0" ry="16.0"/><ellipse cx="55" cy="33" rx="6.7" ry="6.7"/></g><g filter="url(#b1)" fill="#0a0a0a"><ellipse cx="49.5" cy="51" rx="3.9" ry="4.5"/><ellipse cx="64" cy="38" rx="3.0" ry="6.0" transform="rotate(30 64 38)" opacity="0.5"/></g><g mask="url(#mk)"><rect width="100" height="100" filter="url(#n0)" opacity="0.3"/></g></svg><svg x="950.0" y="732.7" width="92.6" height="93.0" viewBox="0 0 100 100" preserveAspectRatio="none"><rect width="100" height="100" fill="#5f5f5f"/><g filter="url(#b3)" fill="#000"><ellipse cx="50" cy="51" rx="22.9" ry="22.9" opacity="0.46"/></g><g mask="url(#mk)"><rect width="100" height="100" filter="url(#n0)" opacity="0.55"/></g><g filter="url(#b1)" fill="#e4e4e4"><ellipse cx="40" cy="55" rx="6.7" ry="9.0"/><ellipse cx="50" cy="44" rx="10.1" ry="5.6" transform="rotate(-15 50 44)"/><ellipse cx="63" cy="47" rx="5.6" ry="3.9" opacity="0.8"/></g><g filter="url(#b1)" fill="#0a0a0a"><ellipse cx="52" cy="55" rx="5.0" ry="5.0" opacity="0.45"/></g><g mask="url(#mk)"><rect width="100" height="100" filter="url(#n1)" opacity="0.3"/></g></svg><svg x="650.6" y="832.5" width="92.5" height="92.8" viewBox="0 0 100 100" preserveAspectRatio="none"><rect width="100" height="100" fill="#707070"/><g filter="url(#b3)" fill="#000"><ellipse cx="48" cy="51" rx="26.4" ry="26.4" opacity="0.80"/></g><g mask="url(#mk)"><rect width="100" height="100" filter="url(#n1)" opacity="0.4"/></g><g filter="url(#b1)" fill="#e4e4e4"><ellipse cx="48" cy="36" rx="5.6" ry="5.6"/><ellipse cx="39" cy="53" rx="6.7" ry="13.4"/><ellipse cx="58" cy="51" rx="6.7" ry="10.1"/><ellipse cx="49" cy="45" rx="5.6" ry="5.6"/><ellipse cx="61" cy="64" rx="4.5" ry="5.6" opacity="0.8"/><ellipse cx="41" cy="66" rx="5.6" ry="4.5"/></g><g filter="url(#b1)" fill="#0a0a0a"><ellipse cx="48" cy="55" rx="3.5" ry="5.0" opacity="0.75"/></g><g mask="url(#mk)"><rect width="100" height="100" filter="url(#n2)" opacity="0.3"/></g></svg><svg x="750.6" y="832.5" width="94.1" height="92.8" viewBox="0 0 100 100" preserveAspectRatio="none"><rect width="100" height="100" fill="#707070"/><g filter="url(#b3)" fill="#000"><ellipse cx="49" cy="50" rx="26.4" ry="26.4" opacity="0.80"/></g><g mask="url(#mk)"><rect width="100" height="100" filter="url(#n2)" opacity="0.4"/></g><g filter="url(#b1)" fill="#e4e4e4"><ellipse cx="40" cy="49" rx="6.7" ry="13.4"/><ellipse cx="59" cy="47" rx="6.7" ry="11.2"/><ellipse cx="46" cy="66" rx="7.8" ry="5.6"/><ellipse cx="49" cy="55" rx="9.0" ry="4.5"/></g><g filter="url(#b1)" fill="#0a0a0a"><ellipse cx="50" cy="41" rx="3.0" ry="7.0" opacity="0.75"/></g><g mask="url(#mk)"><rect width="100" height="100" filter="url(#n0)" opacity="0.3"/></g></svg><svg x="850.5" y="832.5" width="92.8" height="92.8" viewBox="0 0 100 100" preserveAspectRatio="none"><rect width="100" height="100" fill="#707070"/><g filter="url(#b3)" fill="#000"><ellipse cx="50" cy="52" rx="24.6" ry="24.6" opacity="0.57"/></g><g mask="url(#mk)"><rect width="100" height="100" filter="url(#n0)" opacity="0.4"/></g><g filter="url(#b1)" fill="#e4e4e4"><ellipse cx="50" cy="52" rx="15.0" ry="15.0"/><ellipse cx="45" cy="34" rx="4.5" ry="4.5"/></g><g filter="url(#b1)" fill="#0a0a0a"><ellipse cx="50" cy="50" rx="3.9" ry="3.9"/></g><g mask="url(#mk)"><rect width="100" height="100" filter="url(#n1)" opacity="0.3"/></g></svg><svg x="950.0" y="832.5" width="92.6" height="92.9" viewBox="0 0 100 100" preserveAspectRatio="none"><rect width="100" height="100" fill="#5f5f5f"/><g filter="url(#b3)" fill="#000"><ellipse cx="48" cy="53" rx="22.0" ry="22.0" opacity="0.46"/></g><g mask="url(#mk)"><rect width="100" height="100" filter="url(#n1)" opacity="0.55"/></g><g filter="url(#b1)" fill="#e4e4e4"><ellipse cx="40" cy="59" rx="6.7" ry="9.0"/><ellipse cx="54" cy="46" rx="11.2" ry="5.6" transform="rotate(-25 54 46)"/></g><g filter="url(#b1)" fill="#0a0a0a"><ellipse cx="52" cy="57" rx="5.0" ry="4.0" opacity="0.45"/></g><g mask="url(#mk)"><rect width="100" height="100" filter="url(#n2)" opacity="0.3"/></g></svg><svg x="650.6" y="932.2" width="92.5" height="92.4" viewBox="0 0 100 100" preserveAspectRatio="none"><rect width="100" height="100" fill="#707070"/><g filter="url(#b3)" fill="#000"><ellipse cx="49" cy="50" rx="26.4" ry="26.4" opacity="0.80"/></g><g mask="url(#mk)"><rect width="100" height="100" filter="url(#n2)" opacity="0.4"/></g><g filter="url(#b1)" fill="#e4e4e4"><ellipse cx="49" cy="50" rx="14.0" ry="19.0" transform="rotate(25 49 50)"/></g><g filter="url(#b1)" fill="#0a0a0a"><ellipse cx="55" cy="42" rx="3.4" ry="4.2"/><ellipse cx="45" cy="55" rx="3.9" ry="5.2"/></g><g mask="url(#mk)"><rect width="100" height="100" filter="url(#n0)" opacity="0.3"/></g></svg><svg x="750.6" y="932.2" width="94.1" height="92.4" viewBox="0 0 100 100" preserveAspectRatio="none"><rect width="100" height="100" fill="#707070"/><g filter="url(#b3)" fill="#000"><ellipse cx="49" cy="49" rx="26.4" ry="26.4" opacity="0.80"/></g><g mask="url(#mk)"><rect width="100" height="100" filter="url(#n0)" opacity="0.4"/></g><g filter="url(#b1)" fill="#e4e4e4"><ellipse cx="35" cy="50" rx="6.7" ry="9.0"/><ellipse cx="50" cy="39" rx="11.2" ry="5.6"/><ellipse cx="52" cy="59" rx="13.4" ry="5.6"/><ellipse cx="63" cy="43" rx="5.6" ry="4.5"/></g><g filter="url(#b1)" fill="#0a0a0a"><ellipse cx="54.5" cy="49.5" rx="8.0" ry="2.5" opacity="0.75"/><ellipse cx="40" cy="62" rx="5.0" ry="4.0" opacity="0.5"/></g><g mask="url(#mk)"><rect width="100" height="100" filter="url(#n1)" opacity="0.3"/></g></svg><svg x="850.5" y="932.2" width="92.8" height="92.4" viewBox="0 0 100 100" preserveAspectRatio="none"><rect width="100" height="100" fill="#707070"/><g filter="url(#b3)" fill="#000"><ellipse cx="51" cy="50" rx="24.6" ry="24.6" opacity="0.57"/></g><g mask="url(#mk)"><rect width="100" height="100" filter="url(#n1)" opacity="0.4"/></g><g filter="url(#b1)" fill="#e4e4e4"><ellipse cx="37" cy="47" rx="6.7" ry="7.8"/><ellipse cx="47" cy="40" rx="6.7" ry="4.5"/><ellipse cx="64" cy="42" rx="6.7" ry="6.7"/><ellipse cx="64" cy="56" rx="6.7" ry="5.6"/><ellipse cx="49" cy="60" rx="9.0" ry="5.6"/><ellipse cx="48" cy="50" rx="4.5" ry="4.5" opacity="0.7"/></g><g filter="url(#b1)" fill="#0a0a0a"><ellipse cx="56.5" cy="44.5" rx="3.0" ry="3.0" opacity="0.75"/><ellipse cx="43" cy="48.5" rx="2.0" ry="2.0" opacity="0.75"/></g><g mask="url(#mk)"><rect width="100" height="100" filter="url(#n2)" opacity="0.3"/></g></svg><svg x="950.0" y="932.4" width="92.6" height="92.4" viewBox="0 0 100 100" preserveAspectRatio="none"><rect width="100" height="100" fill="#5f5f5f"/><g filter="url(#b3)" fill="#000"><ellipse cx="48" cy="52" rx="21.1" ry="21.1" opacity="0.46"/></g><g mask="url(#mk)"><rect width="100" height="100" filter="url(#n2)" opacity="0.55"/></g><g filter="url(#b1)" fill="#e4e4e4"><ellipse cx="38" cy="55" rx="5.6" ry="7.8"/><ellipse cx="54" cy="45" rx="12.3" ry="5.6" transform="rotate(-10 54 45)"/></g><g filter="url(#b1)" fill="#0a0a0a"><ellipse cx="48" cy="58" rx="4.0" ry="4.0" opacity="0.45"/></g><g mask="url(#mk)"><rect width="100" height="100" filter="url(#n0)" opacity="0.3"/></g></svg><svg x="650.6" y="1032.9" width="92.5" height="88.1" viewBox="0 0 100 100" preserveAspectRatio="none"><rect width="100" height="100" fill="#707070"/><g filter="url(#b3)" fill="#000"><ellipse cx="48" cy="51" rx="26.4" ry="26.4" opacity="0.80"/></g><g mask="url(#mk)"><rect width="100" height="100" filter="url(#n0)" opacity="0.4"/></g><g filter="url(#b1)" fill="#e4e4e4"><ellipse cx="48" cy="51" rx="16.0" ry="13.0" transform="rotate(15 48 51)"/><ellipse cx="36" cy="48" rx="5.6" ry="5.6"/><ellipse cx="61" cy="50" rx="5.6" ry="4.5" opacity="0.8"/></g><g filter="url(#b1)" fill="#0a0a0a"><ellipse cx="52.5" cy="49.5" rx="3.9" ry="3.9"/></g><g mask="url(#mk)"><rect width="100" height="100" filter="url(#n1)" opacity="0.3"/></g></svg><svg x="750.6" y="1032.9" width="94.1" height="88.1" viewBox="0 0 100 100" preserveAspectRatio="none"><rect width="100" height="100" fill="#707070"/><g filter="url(#b3)" fill="#000"><ellipse cx="49" cy="51" rx="26.4" ry="26.4" opacity="0.80"/></g><g mask="url(#mk)"><rect width="100" height="100" filter="url(#n1)" opacity="0.4"/></g><g filter="url(#b1)" fill="#e4e4e4"><ellipse cx="49.5" cy="52" rx="17.0" ry="14.0"/><ellipse cx="38" cy="41" rx="4.5" ry="4.5"/></g><g filter="url(#b1)" fill="#0a0a0a"><ellipse cx="52.5" cy="52" rx="4.5" ry="3.9"/><ellipse cx="46" cy="34" rx="6.0" ry="4.0" opacity="0.5"/></g><g mask="url(#mk)"><rect width="100" height="100" filter="url(#n2)" opacity="0.3"/></g></svg><svg x="850.5" y="1032.9" width="92.8" height="88.1" viewBox="0 0 100 100" preserveAspectRatio="none"><rect width="100" height="100" fill="#707070"/><g filter="url(#b3)" fill="#000"><ellipse cx="52" cy="52" rx="25.5" ry="25.5" opacity="0.80"/></g><g mask="url(#mk)"><rect width="100" height="100" filter="url(#n2)" opacity="0.4"/></g><g filter="url(#b1)" fill="#e4e4e4"><ellipse cx="43" cy="54" rx="6.7" ry="16.8"/><ellipse cx="52" cy="42" rx="11.2" ry="5.6"/><ellipse cx="64" cy="54" rx="6.7" ry="10.1"/><ellipse cx="53.5" cy="52" rx="5.6" ry="3.4"/></g><g filter="url(#b1)" fill="#0a0a0a"><ellipse cx="54.5" cy="62" rx="4.0" ry="6.0" opacity="0.75"/></g><g mask="url(#mk)"><rect width="100" height="100" filter="url(#n0)" opacity="0.3"/></g></svg><svg x="950.0" y="1032.9" width="92.6" height="92.8" viewBox="0 0 100 100" preserveAspectRatio="none"><rect width="100" height="100" fill="#5f5f5f"/><g filter="url(#b3)" fill="#000"><ellipse cx="50" cy="49" rx="21.1" ry="21.1" opacity="0.46"/></g><g mask="url(#mk)"><rect width="100" height="100" filter="url(#n0)" opacity="0.55"/></g><g filter="url(#b1)" fill="#e4e4e4"><ellipse cx="50" cy="34" rx="4.5" ry="5.6"/><ellipse cx="47" cy="49" rx="6.7" ry="11.2"/><ellipse cx="54" cy="62" rx="7.8" ry="6.7"/></g><g filter="url(#b1)" fill="#0a0a0a"><ellipse cx="57" cy="49" rx="4.0" ry="7.0" opacity="0.45"/></g><g mask="url(#mk)"><rect width="100" height="100" filter="url(#n1)" opacity="0.3"/></g></svg><rect x="647.5" y="733.0" width="299.1" height="390.8" fill="none" stroke="#0000FF" stroke-width="7.2" stroke-linejoin="miter"/></g>
<g id="gridD"><svg x="1666.0" y="728.9" width="94.4" height="92.2" viewBox="0 0 100 100" preserveAspectRatio="none"><rect width="100" height="100" fill="#656565"/><g filter="url(#b3)" fill="#000"><ellipse cx="48" cy="47" rx="28.2" ry="28.2" opacity="0.80"/></g><g mask="url(#mk)"><rect width="100" height="100" filter="url(#n0)" opacity="0.4"/></g><g filter="url(#b1)" fill="#e4e4e4"><ellipse cx="48" cy="47" rx="14.5" ry="20.5" transform="rotate(-25 48 47)"/><ellipse cx="33" cy="28" rx="4.5" ry="5.6" opacity="0.7"/><ellipse cx="57" cy="63" rx="6.7" ry="5.6"/></g><g filter="url(#b1)" fill="#0a0a0a"><ellipse cx="49" cy="45" rx="4.5" ry="5.2"/><ellipse cx="67" cy="44" rx="4.0" ry="8.0" opacity="0.5"/></g><g mask="url(#mk)"><rect width="100" height="100" filter="url(#n1)" opacity="0.3"/></g></svg><svg x="1767.6" y="728.9" width="97.7" height="92.2" viewBox="0 0 100 100" preserveAspectRatio="none"><rect width="100" height="100" fill="#656565"/><g filter="url(#b3)" fill="#000"><ellipse cx="50" cy="49" rx="28.2" ry="28.2" opacity="0.80"/></g><g mask="url(#mk)"><rect width="100" height="100" filter="url(#n1)" opacity="0.4"/></g><g filter="url(#b1)" fill="#e4e4e4"><ellipse cx="51" cy="50" rx="18.0" ry="13.0" transform="rotate(30 51 50)"/><ellipse cx="39" cy="43" rx="6.7" ry="6.7"/></g><g filter="url(#b1)" fill="#0a0a0a"><ellipse cx="54" cy="47.5" rx="6.5" ry="3.2" transform="rotate(30 54 47.5)"/><ellipse cx="36" cy="54" rx="5.0" ry="4.0" opacity="0.6"/></g><g mask="url(#mk)"><rect width="100" height="100" filter="url(#n2)" opacity="0.3"/></g></svg><svg x="1870.0" y="728.9" width="97.3" height="92.2" viewBox="0 0 100 100" preserveAspectRatio="none"><rect width="100" height="100" fill="#656565"/><g filter="url(#b3)" fill="#000"><ellipse cx="51" cy="47" rx="28.2" ry="28.2" opacity="0.80"/></g><g mask="url(#mk)"><rect width="100" height="100" filter="url(#n2)" opacity="0.4"/></g><g filter="url(#b1)" fill="#e4e4e4"><ellipse cx="51" cy="48" rx="14.5" ry="18.5" transform="rotate(-15 51 48)"/><ellipse cx="43" cy="28" rx="5.6" ry="5.6"/><ellipse cx="61" cy="71" rx="4.5" ry="7.8" opacity="0.7"/></g><g filter="url(#b1)" fill="#0a0a0a"><ellipse cx="52" cy="46" rx="3.2" ry="5.2"/></g><g mask="url(#mk)"><rect width="100" height="100" filter="url(#n0)" opacity="0.3"/></g></svg><svg x="1974.0" y="723.9" width="95.5" height="96.6" viewBox="0 0 100 100" preserveAspectRatio="none"><rect width="100" height="100" fill="#5f5f5f"/><g filter="url(#b3)" fill="#000"><ellipse cx="50" cy="50" rx="26.4" ry="26.4" opacity="0.40"/></g><g mask="url(#mk)"><rect width="100" height="100" filter="url(#n0)" opacity="0.55"/></g><g filter="url(#b1)" fill="#e4e4e4"><ellipse cx="44" cy="40" rx="5.6" ry="10.1" opacity="0.8"/><ellipse cx="53" cy="56" rx="9.0" ry="9.0" opacity="0.85"/></g><g filter="url(#b1)" fill="#0a0a0a"><ellipse cx="56" cy="43" rx="4.0" ry="5.0" opacity="0.45"/></g><g mask="url(#mk)"><rect width="100" height="100" filter="url(#n1)" opacity="0.3"/></g></svg><svg x="1666.0" y="828.6" width="94.4" height="95.6" viewBox="0 0 100 100" preserveAspectRatio="none"><rect width="100" height="100" fill="#656565"/><g filter="url(#b3)" fill="#000"><ellipse cx="48" cy="52" rx="28.2" ry="28.2" opacity="0.80"/></g><g mask="url(#mk)"><rect width="100" height="100" filter="url(#n1)" opacity="0.4"/></g><g filter="url(#b1)" fill="#e4e4e4"><ellipse cx="38" cy="40" rx="7.8" ry="6.7"/><ellipse cx="57" cy="50" rx="6.7" ry="10.1"/><ellipse cx="37" cy="54" rx="5.6" ry="9.0"/><ellipse cx="45" cy="66" rx="9.0" ry="6.7"/><ellipse cx="47" cy="45" rx="4.5" ry="4.5"/></g><g filter="url(#b1)" fill="#0a0a0a"><ellipse cx="51" cy="53" rx="3.0" ry="3.0" opacity="0.75"/></g><g mask="url(#mk)"><rect width="100" height="100" filter="url(#n2)" opacity="0.3"/></g></svg><svg x="1767.6" y="828.6" width="97.7" height="95.6" viewBox="0 0 100 100" preserveAspectRatio="none"><rect width="100" height="100" fill="#656565"/><g filter="url(#b3)" fill="#000"><ellipse cx="50" cy="52" rx="28.2" ry="28.2" opacity="0.80"/></g><g mask="url(#mk)"><rect width="100" height="100" filter="url(#n2)" opacity="0.4"/></g><g filter="url(#b1)" fill="#e4e4e4"><ellipse cx="50" cy="53" rx="13.5" ry="16.5" transform="rotate(-20 50 53)"/><ellipse cx="41" cy="39" rx="6.7" ry="6.7"/><ellipse cx="61" cy="67" rx="4.5" ry="5.6"/></g><g filter="url(#b1)" fill="#0a0a0a"><ellipse cx="52" cy="53.5" rx="3.9" ry="4.5"/></g><g mask="url(#mk)"><rect width="100" height="100" filter="url(#n0)" opacity="0.3"/></g></svg><svg x="1870.0" y="828.6" width="97.3" height="95.6" viewBox="0 0 100 100" preserveAspectRatio="none"><rect width="100" height="100" fill="#656565"/><g filter="url(#b3)" fill="#000"><ellipse cx="48" cy="51" rx="28.2" ry="28.2" opacity="0.80"/></g><g mask="url(#mk)"><rect width="100" height="100" filter="url(#n0)" opacity="0.4"/></g><g filter="url(#b1)" fill="#e4e4e4"><ellipse cx="48" cy="51" rx="19.5" ry="14.5" transform="rotate(20 48 51)"/><ellipse cx="47" cy="60.5" rx="3.4" ry="3.4"/><ellipse cx="61.5" cy="56.5" rx="3.4" ry="3.4"/></g><g filter="url(#b1)" fill="#0a0a0a"><ellipse cx="49" cy="50" rx="3.9" ry="3.9"/></g><g mask="url(#mk)"><rect width="100" height="100" filter="url(#n1)" opacity="0.3"/></g></svg><svg x="1974.0" y="829.0" width="95.5" height="96.8" viewBox="0 0 100 100" preserveAspectRatio="none"><rect width="100" height="100" fill="#5f5f5f"/><g filter="url(#b3)" fill="#000"><ellipse cx="50" cy="50" rx="26.4" ry="26.4" opacity="0.40"/></g><g mask="url(#mk)"><rect width="100" height="100" filter="url(#n1)" opacity="0.55"/></g><g filter="url(#b1)" fill="#e4e4e4"><ellipse cx="55" cy="47" rx="12.3" ry="6.7"/><ellipse cx="38" cy="58" rx="7.8" ry="9.0" transform="rotate(-30 38 58)" opacity="0.7"/></g><g mask="url(#mk)"><rect width="100" height="100" filter="url(#n2)" opacity="0.3"/></g></svg><svg x="1666.0" y="931.6" width="94.4" height="94.5" viewBox="0 0 100 100" preserveAspectRatio="none"><rect width="100" height="100" fill="#656565"/><g filter="url(#b3)" fill="#000"><ellipse cx="45" cy="54" rx="29.9" ry="24.6" opacity="0.80"/></g><g mask="url(#mk)"><rect width="100" height="100" filter="url(#n2)" opacity="0.4"/></g><g filter="url(#b1)" fill="#e4e4e4"><ellipse cx="45" cy="54" rx="19.5" ry="14.5" transform="rotate(-20 45 54)"/><ellipse cx="67" cy="36" rx="5.6" ry="5.6" opacity="0.85"/><ellipse cx="59" cy="43" rx="4.5" ry="4.5"/><ellipse cx="30" cy="61" rx="5.6" ry="5.6"/></g><g filter="url(#b1)" fill="#0a0a0a"><ellipse cx="46.5" cy="53" rx="4.5" ry="4.5"/></g><g mask="url(#mk)"><rect width="100" height="100" filter="url(#n0)" opacity="0.3"/></g></svg><svg x="1767.6" y="931.6" width="97.7" height="94.5" viewBox="0 0 100 100" preserveAspectRatio="none"><rect width="100" height="100" fill="#656565"/><g filter="url(#b3)" fill="#000"><ellipse cx="48" cy="50" rx="28.2" ry="28.2" opacity="0.80"/></g><g mask="url(#mk)"><rect width="100" height="100" filter="url(#n0)" opacity="0.4"/></g><g filter="url(#b1)" fill="#e4e4e4"><ellipse cx="48" cy="50" rx="15.5" ry="14.5" transform="rotate(30 48 50)"/><ellipse cx="63" cy="52" rx="6.7" ry="7.8" opacity="0.9"/><ellipse cx="61" cy="60" rx="4.5" ry="4.5"/></g><g filter="url(#b1)" fill="#0a0a0a"><ellipse cx="46" cy="47.5" rx="4.5" ry="3.9"/><ellipse cx="65" cy="35" rx="6.0" ry="4.0" opacity="0.5"/></g><g mask="url(#mk)"><rect width="100" height="100" filter="url(#n1)" opacity="0.3"/></g></svg><svg x="1870.0" y="931.6" width="97.3" height="94.5" viewBox="0 0 100 100" preserveAspectRatio="none"><rect width="100" height="100" fill="#656565"/><g filter="url(#b3)" fill="#000"><ellipse cx="50" cy="50" rx="28.2" ry="28.2" opacity="0.80"/></g><g mask="url(#mk)"><rect width="100" height="100" filter="url(#n1)" opacity="0.4"/></g><g filter="url(#b2)" fill="#ddd"><ellipse cx="53" cy="26" rx="4.0" ry="6.0" opacity="0.3"/></g><g filter="url(#b1)" fill="#e4e4e4"><ellipse cx="42" cy="51" rx="6.7" ry="15.7"/><ellipse cx="59" cy="46" rx="6.7" ry="14.6"/><ellipse cx="49" cy="65" rx="9.0" ry="6.7"/></g><g filter="url(#b1)" fill="#0a0a0a"><ellipse cx="51" cy="46" rx="2.0" ry="7.0" opacity="0.75"/></g><g mask="url(#mk)"><rect width="100" height="100" filter="url(#n2)" opacity="0.3"/></g></svg><svg x="1974.0" y="930.4" width="97.0" height="95.7" viewBox="0 0 100 100" preserveAspectRatio="none"><rect width="100" height="100" fill="#5f5f5f"/><g filter="url(#b3)" fill="#000"><ellipse cx="50" cy="50" rx="26.4" ry="26.4" opacity="0.46"/></g><g mask="url(#mk)"><rect width="100" height="100" filter="url(#n2)" opacity="0.55"/></g><g filter="url(#b1)" fill="#e4e4e4"><ellipse cx="48" cy="38" rx="6.7" ry="6.7"/><ellipse cx="45" cy="49" rx="5.6" ry="7.8"/><ellipse cx="55" cy="60" rx="9.0" ry="6.7"/></g><g filter="url(#b1)" fill="#0a0a0a"><ellipse cx="58" cy="45" rx="5.0" ry="6.0" opacity="0.45"/></g><g mask="url(#mk)"><rect width="100" height="100" filter="url(#n0)" opacity="0.3"/></g></svg><svg x="1666.0" y="1035.1" width="94.4" height="91.3" viewBox="0 0 100 100" preserveAspectRatio="none"><rect width="100" height="100" fill="#656565"/><g filter="url(#b3)" fill="#000"><ellipse cx="50" cy="52" rx="28.2" ry="28.2" opacity="0.80"/></g><g mask="url(#mk)"><rect width="100" height="100" filter="url(#n0)" opacity="0.4"/></g><g filter="url(#b1)" fill="#e4e4e4"><ellipse cx="50" cy="52" rx="15.5" ry="20.5" transform="rotate(35 50 52)"/><ellipse cx="31" cy="72" rx="6.7" ry="6.7"/><ellipse cx="59" cy="36" rx="6.7" ry="5.6"/></g><g filter="url(#b1)" fill="#0a0a0a"><ellipse cx="46" cy="48" rx="3.9" ry="4.5"/></g><g mask="url(#mk)"><rect width="100" height="100" filter="url(#n1)" opacity="0.3"/></g></svg><svg x="1767.6" y="1035.1" width="97.7" height="91.3" viewBox="0 0 100 100" preserveAspectRatio="none"><rect width="100" height="100" fill="#656565"/><g filter="url(#b3)" fill="#000"><ellipse cx="49" cy="51" rx="28.2" ry="28.2" opacity="0.80"/></g><g mask="url(#mk)"><rect width="100" height="100" filter="url(#n1)" opacity="0.4"/></g><g filter="url(#b2)" fill="#ddd"><ellipse cx="25" cy="51" rx="5.0" ry="5.0" opacity="0.3"/></g><g filter="url(#b1)" fill="#e4e4e4"><ellipse cx="49" cy="51" rx="18.5" ry="13.5"/><ellipse cx="65" cy="52" rx="5.6" ry="10.1"/></g><g filter="url(#b1)" fill="#0a0a0a"><ellipse cx="45" cy="49" rx="5.9" ry="3.9"/></g><g mask="url(#mk)"><rect width="100" height="100" filter="url(#n2)" opacity="0.3"/></g></svg><svg x="1870.0" y="1035.1" width="97.3" height="91.3" viewBox="0 0 100 100" preserveAspectRatio="none"><rect width="100" height="100" fill="#656565"/><g filter="url(#b3)" fill="#000"><ellipse cx="48" cy="55" rx="28.2" ry="28.2" opacity="0.80"/></g><g mask="url(#mk)"><rect width="100" height="100" filter="url(#n2)" opacity="0.4"/></g><g filter="url(#b1)" fill="#e4e4e4"><ellipse cx="48" cy="55" rx="16.5" ry="15.5"/><ellipse cx="44" cy="72" rx="5.6" ry="4.5"/></g><g filter="url(#b1)" fill="#0a0a0a"><ellipse cx="47" cy="53.5" rx="4.5" ry="4.5"/><ellipse cx="64.5" cy="41.5" rx="7.0" ry="5.0" opacity="0.5"/></g><g mask="url(#mk)"><rect width="100" height="100" filter="url(#n0)" opacity="0.3"/></g></svg><svg x="1974.0" y="1035.1" width="97.0" height="97.3" viewBox="0 0 100 100" preserveAspectRatio="none"><rect width="100" height="100" fill="#5f5f5f"/><g filter="url(#b3)" fill="#000"><ellipse cx="50" cy="50" rx="26.4" ry="26.4" opacity="0.40"/></g><g mask="url(#mk)"><rect width="100" height="100" filter="url(#n0)" opacity="0.55"/></g><g filter="url(#b2)" fill="#ddd"><ellipse cx="34" cy="67" rx="7.0" ry="6.0" opacity="0.5"/></g><g filter="url(#b1)" fill="#e4e4e4"><ellipse cx="49" cy="51" rx="15.7" ry="6.7" transform="rotate(-35 49 51)"/><ellipse cx="62.5" cy="39" rx="4.5" ry="10.1" transform="rotate(20 62.5 39)"/></g><g filter="url(#b1)" fill="#0a0a0a"><ellipse cx="43" cy="37" rx="8.0" ry="5.0" opacity="0.6"/><ellipse cx="53" cy="63" rx="6.0" ry="5.0" opacity="0.6"/></g><g mask="url(#mk)"><rect width="100" height="100" filter="url(#n1)" opacity="0.3"/></g></svg><rect x="1662.6" y="725.8" width="308.1" height="403.6" fill="none" stroke="#0000FF" stroke-width="7.2" stroke-linejoin="miter"/></g>
<path fill="none" stroke="#000" stroke-width="4" d="M329,955 C329.6,970 327,974 320,976.2"/><path fill="none" stroke="#000" stroke-width="4" d="M1377.9,951 C1378,967 1373,971.5 1361,973.2"/><g id="diaA"><g transform="translate(0,0)"><path fill="none" stroke="#000" stroke-width="4" stroke-linecap="butt" d="M319,97.9 L334.7,97.9 Q346,98 356,101"/><path fill="none" stroke="#000" stroke-width="4" stroke-linecap="butt" d="M375.2,126 C374.8,140 371,151 367.3,170"/><path fill="none" stroke="#000" stroke-width="4" stroke-linecap="butt" d="M286,157.6 C278,162 270,165.2 270,169.6 C270,173.8 274,176 280,179.6"/><path fill="none" stroke="#000" stroke-width="4" stroke-linecap="butt" d="M260,232.6 C253,236.4 250,238.6 250,242 C250,246 259,250 268,254.8"/><path fill="none" stroke="#000" stroke-width="4" stroke-linecap="butt" d="M359.1,269 C360,280 364,286 371.5,291.2"/><path fill="none" stroke="#000" stroke-width="4" stroke-linecap="butt" d="M421.3,350 C421.3,367 412,370.6 389,371.3"/><rect x="-14.85" y="-36.25" width="29.7" height="72.5" rx="9" ry="9" fill="#FFD34D" transform="translate(301.90,126.90) rotate(10)"/><rect x="-15.25" y="-33.30" width="30.5" height="66.6" rx="9" ry="9" fill="#00B050" transform="translate(279.30,206.60) rotate(28)"/><rect x="-15.00" y="-52.20" width="30" height="104.4" rx="9" ry="9" fill="#A6A6A6" transform="translate(326.50,214.40) rotate(5.8)"/><rect x="-15.00" y="-52.50" width="30" height="105" rx="9" ry="9" fill="#FF9933" transform="translate(363.10,218.90) rotate(6)"/><rect x="-13.25" y="-35.00" width="26.5" height="70" rx="8" ry="8" fill="#00B0F0" transform="translate(285.70,282.30) rotate(-39)"/><circle cx="413.1" cy="308.5" r="45.6" fill="#A6A6A6"/><rect x="352" y="353.9" width="39" height="158.8" rx="12" ry="12" fill="#C00000"/><polygon points="352.1,97.3 381.8,100.3 376.4,130.2" fill="#FF0000"/><path d="M292.1,214.3 L289.9,267" fill="none" stroke="#FF0000" stroke-width="6" stroke-dasharray="5.4 6.6"/><path d="M323.6,267.2 L332.4,296.8 Q334,303.5 329.5,308 L321.2,308.1 L312.9,305.1" fill="none" stroke="#FF0000" stroke-width="3" stroke-dasharray="3 3"/></g></g>
<g id="diaB"><g transform="translate(1121,-7)"><path fill="none" stroke="#000" stroke-width="4" stroke-linecap="butt" d="M319,97.9 L334.7,97.9 Q346,98 356,101"/><path fill="none" stroke="#000" stroke-width="4" stroke-linecap="butt" d="M375.2,126 C374.8,140 371,151 367.3,170"/><path fill="none" stroke="#000" stroke-width="4" stroke-linecap="butt" d="M260,232.6 C253,236.4 250,238.6 250,242 C250,246 259,250 268,254.8"/><path fill="none" stroke="#000" stroke-width="4" stroke-linecap="butt" d="M359.1,269 C360,280 364,286 371.5,291.2"/><path fill="none" stroke="#000" stroke-width="4" stroke-linecap="butt" d="M421.3,350 C421.3,367 412,370.6 389,371.3"/><rect x="-14.85" y="-36.25" width="29.7" height="72.5" rx="9" ry="9" fill="#FFD34D" transform="translate(301.90,126.90) rotate(10)"/><rect x="-15.25" y="-33.30" width="30.5" height="66.6" rx="9" ry="9" fill="#00B050" transform="translate(279.30,206.60) rotate(28)"/><rect x="-15.00" y="-52.20" width="30" height="104.4" rx="9" ry="9" fill="#A6A6A6" transform="translate(326.50,214.40) rotate(5.8)"/><rect x="-15.00" y="-52.50" width="30" height="105" rx="9" ry="9" fill="#FF9933" transform="translate(363.10,218.90) rotate(6)"/><rect x="-13.25" y="-35.00" width="26.5" height="70" rx="8" ry="8" fill="#00B0F0" transform="translate(285.70,282.30) rotate(-39)"/><circle cx="413.1" cy="308.5" r="45.6" fill="#A6A6A6"/><rect x="352" y="353.9" width="39" height="158.8" rx="12" ry="12" fill="#C00000"/><polygon points="352.1,97.3 381.8,100.3 376.4,130.2" fill="#FF0000"/><polygon points="287,151.8 260.1,165.5 275.1,191.6" fill="#FF0000"/><path d="M292.1,214.3 L289.9,267" fill="none" stroke="#FF0000" stroke-width="6" stroke-dasharray="5.4 6.6"/><path d="M323.6,267.2 L332.4,296.8 Q334,303.5 329.5,308 L321.2,308.1 L312.9,305.1" fill="none" stroke="#FF0000" stroke-width="3" stroke-dasharray="3 3"/></g></g>
<g id="diaC"><g transform="translate(-92,607.5)"><path fill="none" stroke="#000" stroke-width="4" stroke-linecap="butt" d="M319,97.9 L334.7,97.9 Q346,98 356,101"/><path fill="none" stroke="#000" stroke-width="4" stroke-linecap="butt" d="M375.2,126 C374.8,140 371,151 367.3,170"/><path fill="none" stroke="#000" stroke-width="4" stroke-linecap="butt" d="M260,232.6 C253,236.4 250,238.6 250,242 C250,246 259,250 268,254.8"/><path fill="none" stroke="#000" stroke-width="4" stroke-linecap="butt" d="M359.1,269 C360,280 364,286 371.5,291.2"/><rect x="-14.85" y="-36.25" width="29.7" height="72.5" rx="9" ry="9" fill="#FFD34D" transform="translate(301.90,126.90) rotate(10)"/><rect x="-15.25" y="-33.30" width="30.5" height="66.6" rx="9" ry="9" fill="#00B050" transform="translate(279.30,206.60) rotate(28)"/><rect x="-15.00" y="-52.20" width="30" height="104.4" rx="9" ry="9" fill="#A6A6A6" transform="translate(326.50,214.40) rotate(5.8)"/><rect x="-15.00" y="-52.50" width="30" height="105" rx="9" ry="9" fill="#FF9933" transform="translate(363.10,218.90) rotate(6)"/><rect x="-13.25" y="-35.00" width="26.5" height="70" rx="8" ry="8" fill="#00B0F0" transform="translate(285.70,282.30) rotate(-39)"/><circle cx="413.1" cy="308.5" r="45.6" fill="#A6A6A6"/><rect x="352" y="353.9" width="39" height="158.8" rx="12" ry="12" fill="#C00000"/><polygon points="352.1,97.3 381.8,100.3 376.4,130.2" fill="#FF0000"/><polygon points="287,151.8 260.1,165.5 275.1,191.6" fill="#FF0000"/><path d="M292.1,214.3 L289.9,267" fill="none" stroke="#FF0000" stroke-width="6" stroke-dasharray="5.4 6.6"/><path d="M323.6,267.2 L332.4,296.8 Q334,303.5 329.5,308 L321.2,308.1 L312.9,305.1" fill="none" stroke="#FF0000" stroke-width="3" stroke-dasharray="3 3"/></g></g>
<g id="diaD"><g transform="translate(957,603.3)"><path fill="none" stroke="#000" stroke-width="4" stroke-linecap="butt" d="M319,97.9 L334.7,97.9 Q346,98 356,101"/><path fill="none" stroke="#000" stroke-width="4" stroke-linecap="butt" d="M375.2,126 C374.8,140 371,151 367.3,170"/><path fill="none" stroke="#000" stroke-width="4" stroke-linecap="butt" d="M260,232.6 C253,236.4 250,238.6 250,242 C250,246 259,250 268,254.8"/><path fill="none" stroke="#000" stroke-width="4" stroke-linecap="butt" d="M359.1,269 C360,280 364,286 371.5,291.2"/><rect x="-14.85" y="-36.25" width="29.7" height="72.5" rx="9" ry="9" fill="#FFD34D" transform="translate(301.90,126.90) rotate(10)"/><rect x="-15.25" y="-33.30" width="30.5" height="66.6" rx="9" ry="9" fill="#00B050" transform="translate(279.30,206.60) rotate(28)"/><rect x="-15.00" y="-52.20" width="30" height="104.4" rx="9" ry="9" fill="#A6A6A6" transform="translate(326.50,214.40) rotate(5.8)"/><rect x="-15.00" y="-52.50" width="30" height="105" rx="9" ry="9" fill="#FF9933" transform="translate(363.10,218.90) rotate(6)"/><rect x="-13.25" y="-35.00" width="26.5" height="70" rx="8" ry="8" fill="#00B0F0" transform="translate(285.70,282.30) rotate(-39)"/><circle cx="413.1" cy="308.5" r="45.6" fill="#A6A6A6"/><rect x="352" y="353.9" width="39" height="158.8" rx="12" ry="12" fill="#C00000"/><polygon points="352.1,97.3 381.8,100.3 376.4,130.2" fill="#FF0000"/><polygon points="287,151.8 260.1,165.5 275.1,191.6" fill="#FF0000"/><path d="M292.1,214.3 L289.9,267" fill="none" stroke="#FF0000" stroke-width="6" stroke-dasharray="5.4 6.6"/><path d="M323.6,267.2 L332.4,296.8 Q334,303.5 329.5,308 L321.2,308.1 L312.9,305.1" fill="none" stroke="#FF0000" stroke-width="3" stroke-dasharray="3 3"/></g></g>
<circle cx="298.5" cy="974.6" r="22.2" fill="#fff" stroke="#000" stroke-width="4"/><text transform="scale(1.0662,1)" x="264.12" y="982.70" font-size="22.38" font-weight="700" xml:space="preserve">NQ</text><circle cx="1339.4" cy="971.5" r="22.4" fill="#fff" stroke="#000" stroke-width="4"/><text transform="scale(0.9860,1)" x="1344.21" y="979.50" font-size="22.67" font-weight="700" xml:space="preserve">L2</text>
<line x1="187.00" y1="178.30" x2="272.09" y2="228.12" stroke="#FF0000" stroke-width="3.6"/><polygon points="285.90,236.20 258.97,234.69 271.23,227.61 271.40,213.46" fill="#FF0000"/><line x1="261.50" y1="365.00" x2="309.29" y2="322.09" stroke="#FF0000" stroke-width="3.6"/><polygon points="321.20,311.40 311.56,336.59 308.55,322.76 295.12,318.28" fill="#FF0000"/><line x1="455.00" y1="71.60" x2="405.42" y2="96.27" stroke="#FF0000" stroke-width="3.6"/><polygon points="391.10,103.40 407.11,81.70 406.32,95.83 418.07,103.72" fill="#FF0000"/><line x1="1316.00" y1="207.80" x2="1362.95" y2="172.94" stroke="#FF0000" stroke-width="3.6"/><polygon points="1375.80,163.40 1363.86,187.58 1362.15,173.53 1349.20,167.83" fill="#FF0000"/><line x1="385.60" y1="996.80" x2="346.53" y2="985.09" stroke="#FF0000" stroke-width="3.6"/><polygon points="331.20,980.50 357.72,975.61 347.48,985.38 350.66,999.17" fill="#FF0000"/><line x1="1418.90" y1="1006.00" x2="1379.56" y2="993.61" stroke="#FF0000" stroke-width="3.6"/><polygon points="1364.30,988.80 1390.89,984.28 1380.51,993.91 1383.50,1007.74" fill="#FF0000"/>
<text x="467.66" y="79.70" font-size="31" letter-spacing="-0.101" xml:space="preserve">Rigid</text><text x="468.20" y="119.60" font-size="31" letter-spacing="1.169" xml:space="preserve">proline</text><text x="468.20" y="159.60" font-size="31" letter-spacing="0.760" xml:space="preserve">prevents</text><text x="467.99" y="199.30" font-size="31" letter-spacing="1.335" xml:space="preserve">unfolding</text><text x="48.46" y="181.70" font-size="31" letter-spacing="1.267" xml:space="preserve">Disulfide</text><text x="103.50" y="221.70" font-size="31" letter-spacing="1.478" xml:space="preserve">bond</text><text x="52.10" y="261.40" font-size="31" letter-spacing="0.788" xml:space="preserve">prevents</text><text x="42.29" y="301.60" font-size="31" letter-spacing="1.347" xml:space="preserve">unfolding</text><text x="57.09" y="388.00" font-size="31" letter-spacing="0.848" xml:space="preserve">Short peptide</text><text x="78.31" y="428.00" font-size="31" letter-spacing="1.067" xml:space="preserve">locks fusion</text><text x="101.80" y="467.90" font-size="31" letter-spacing="0.715" xml:space="preserve">peptide  in</text><text x="36.76" y="507.90" font-size="31" letter-spacing="1.095" xml:space="preserve">folded position</text><text x="1196.09" y="221.90" font-size="31" letter-spacing="0.993" xml:space="preserve">Second</text><text x="1205.20" y="261.80" font-size="31" letter-spacing="1.219" xml:space="preserve">proline</text><text x="1174.44" y="302.40" font-size="31" letter-spacing="1.839" xml:space="preserve">mutation</text><text x="395.96" y="1011.20" font-size="31" letter-spacing="0.924" xml:space="preserve">Repulsion</text><text x="395.88" y="1051.10" font-size="31" letter-spacing="0.756" xml:space="preserve">changed to</text><text x="396.18" y="1091.20" font-size="31" letter-spacing="1.524" xml:space="preserve">attraction</text><text x="1425.96" y="1021.20" font-size="31" letter-spacing="0.999" xml:space="preserve">Repulsion</text><text x="1426.38" y="1060.50" font-size="31" letter-spacing="0.723" xml:space="preserve">changed to</text><text x="1426.38" y="1100.70" font-size="31" letter-spacing="1.502" xml:space="preserve">attraction</text>
<text transform="scale(1.0256,1)" x="682.06" y="92.90" font-size="26.02" xml:space="preserve">Closed pre-F trimer: ~4%</text><text transform="scale(1.0103,1)" x="1702.26" y="82.90" font-size="26.60" xml:space="preserve">Closed pre-F trimer: ~4%</text><text transform="scale(1.0037,1)" x="686.98" y="709.60" font-size="26.60" xml:space="preserve">Closed pre-F trimer: ~73%</text><text transform="scale(1.0091,1)" x="1692.46" y="707.20" font-size="26.89" xml:space="preserve">Closed pre-F trimer: ~76%</text>
<text transform="scale(0.9602,1)" x="29.85" y="73.80" font-size="55.96" font-weight="700" xml:space="preserve">A</text><text transform="scale(0.8439,1)" x="1300.95" y="70.90" font-size="56.25" font-weight="700" xml:space="preserve">B</text><text transform="scale(0.9810,1)" x="31.04" y="694.20" font-size="55.81" font-weight="700" xml:space="preserve">C</text><text transform="scale(0.9995,1)" x="1095.07" y="698.05" font-size="55.31" font-weight="700" xml:space="preserve">D</text>
<text transform="scale(0.9542,1)" x="303.69" y="586.80" font-size="47.24" font-weight="700" xml:space="preserve">UFC</text><text transform="scale(0.8612,1)" x="446.48" y="596.70" font-size="31.40" font-weight="700" xml:space="preserve">R1</text><text transform="scale(0.9478,1)" x="1452.15" y="579.70" font-size="47.24" font-weight="700" xml:space="preserve">UFC</text><text transform="scale(0.8719,1)" x="1686.59" y="589.70" font-size="31.40" font-weight="700" xml:space="preserve">R1</text><text transform="scale(0.9631,1)" x="1568.16" y="579.70" font-size="47.24" font-weight="700" xml:space="preserve">-P2</text><text transform="scale(0.9553,1)" x="142.88" y="1194.40" font-size="47.24" font-weight="700" xml:space="preserve">UFC</text><text transform="scale(0.8612,1)" x="268.47" y="1204.20" font-size="31.40" font-weight="700" xml:space="preserve">R1</text><text transform="scale(0.9688,1)" x="279.52" y="1194.40" font-size="47.24" font-weight="700" xml:space="preserve">-P2-NQ</text><text transform="scale(0.9575,1)" x="1265.73" y="1190.00" font-size="47.24" font-weight="700" xml:space="preserve">UFC</text><text transform="scale(0.8665,1)" x="1508.05" y="1199.80" font-size="31.40" font-weight="700" xml:space="preserve">R1</text><text transform="scale(0.9614,1)" x="1400.20" y="1190.00" font-size="47.24" font-weight="700" xml:space="preserve">-P2-L2</text>
</svg>
<div class="cap j" style="top:1271px"><b>Figure 3. EM analysis of (A) UFC<sub>R1</sub>, (B) UFC<sub>R1</sub>-P2, (C) UFC<sub>R1</sub>-P2-NQ, and (D) UFC<sub>R1</sub>-P2-L2 prefusion-</b></div>
<div class="cap j" style="top:1328.8px"><b>closed RSV-F trimers.</b> To the left of each figure is a simplified diagram of a single subunit showing the</div>
<div class="cap j" style="top:1386.4px">stabilizing mutations. To the right of each figure is a collection of 2D images obtained by electron microscopy.</div>
<div class="cap" style="top:1444px">Closed prefusion trimers are outlined in blue.</div>
</body></html>
